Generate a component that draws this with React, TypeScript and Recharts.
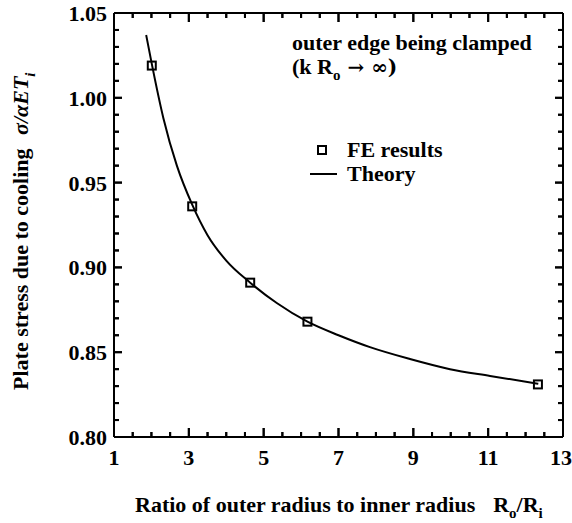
import { ComposedChart, Line, ReferenceLine, Scatter, XAxis, YAxis } from "recharts";

// Ratio of outer radius to inner radius, Ro/Ri
const THEORY_X = [1.86, 2.01, 2.32, 2.68, 3.09, 3.5, 4.0, 4.64, 5.35, 6.17, 7.0, 7.84, 8.91, 9.98, 11.05, 12.34];
const THEORY_Y = [1.037, 1.02, 0.988, 0.96, 0.937, 0.919, 0.904, 0.891, 0.879, 0.868, 0.86, 0.853, 0.846, 0.84, 0.836, 0.8314];

const FE_X = [2.01, 3.09, 4.64, 6.17, 12.33];
const FE_Y = [1.019, 0.936, 0.891, 0.868, 0.831];

const X_TICKS = [1, 1.5, 2, 2.5, 3, 3.5, 4, 4.5, 5, 5.5, 6, 6.5, 7, 7.5, 8, 8.5, 9, 9.5, 10, 10.5, 11, 11.5, 12, 12.5, 13];
const X_LABELS = [1, 3, 5, 7, 9, 11, 13];
const Y_TICKS = [
  0.8, 0.81, 0.82, 0.83, 0.84, 0.85, 0.86, 0.87, 0.88, 0.89, 0.9, 0.91, 0.92,
  0.93, 0.94, 0.95, 0.96, 0.97, 0.98, 0.99, 1.0, 1.01, 1.02, 1.03, 1.04, 1.05,
];
const Y_LABELS = [0.8, 0.85, 0.9, 0.95, 1.0, 1.05];

const X_DOMAIN: [number, number] = [1, 13];
const Y_DOMAIN: [number, number] = [0.8, 1.05];

const isLabel = (list: number[], v: number) => list.some((l) => Math.abs(l - v) < 1e-6);

const theory = THEORY_X.map((x, i) => ({ x, y: THEORY_Y[i] }));
const fe = FE_X.map((x, i) => ({ x, y: FE_Y[i] }));

// tick marks sit on the frame edges as small scatter glyphs
const bottomTicks = X_TICKS.map((x) => ({ x, y: Y_DOMAIN[0] }));
const topTicks = X_TICKS.map((x) => ({ x, y: Y_DOMAIN[1] }));
const leftTicks = Y_TICKS.map((y) => ({ x: X_DOMAIN[0], y }));
const rightTicks = Y_TICKS.map((y) => ({ x: X_DOMAIN[1], y }));

const FONT = "'Liberation Serif', 'Times New Roman', serif";
const W = 572;
const H = 523;
const MARGIN = { top: 3, right: 4, bottom: 76, left: 104 };
const PLOT_W = W - MARGIN.left - MARGIN.right - 15;
const PLOT_H = H - MARGIN.top - MARGIN.bottom - 20;

const xLen = (v: number) => (isLabel(X_LABELS, v) ? 9 : 5);
const yLen = (v: number) => (isLabel(Y_LABELS, v) ? 8 : 5);

const valOf = (p: any, k: "x" | "y") => (p.payload ? p.payload[k] : p[k]);

function BottomTick(props: any) {
  const { cx, cy } = props;
  const len = xLen(valOf(props, "x"));
  return <path d={`M${cx},${cy}V${cy - len}`} stroke="#000" strokeWidth={2} fill="none" />;
}
function TopTick(props: any) {
  const { cx, cy } = props;
  const len = xLen(valOf(props, "x"));
  return <path d={`M${cx},${cy}V${cy + len}`} stroke="#000" strokeWidth={2} fill="none" />;
}
function LeftTick(props: any) {
  const { cx, cy } = props;
  const len = yLen(valOf(props, "y"));
  return <path d={`M${cx},${cy}H${cx + len}`} stroke="#000" strokeWidth={2} fill="none" />;
}
function RightTick(props: any) {
  const { cx, cy } = props;
  const len = yLen(valOf(props, "y"));
  return <path d={`M${cx},${cy}H${cx - len}`} stroke="#000" strokeWidth={2} fill="none" />;
}

// same tick marks as reference segments (data units from the plot size)
const dx = (p: number) => (p * (X_DOMAIN[1] - X_DOMAIN[0])) / PLOT_W;
const dy = (p: number) => (p * (Y_DOMAIN[1] - Y_DOMAIN[0])) / PLOT_H;
const SEGS: { key: string; seg: any }[] = [
  ...X_TICKS.map((v) => ({ key: `b${v}`, seg: [{ x: v, y: Y_DOMAIN[0] }, { x: v, y: Y_DOMAIN[0] + dy(xLen(v)) }] })),
  ...X_TICKS.map((v) => ({ key: `t${v}`, seg: [{ x: v, y: Y_DOMAIN[1] }, { x: v, y: Y_DOMAIN[1] - dy(xLen(v)) }] })),
  ...Y_TICKS.map((v) => ({ key: `l${v}`, seg: [{ x: X_DOMAIN[0], y: v }, { x: X_DOMAIN[0] + dx(yLen(v)), y: v }] })),
  ...Y_TICKS.map((v) => ({ key: `r${v}`, seg: [{ x: X_DOMAIN[1], y: v }, { x: X_DOMAIN[1] - dx(yLen(v)), y: v }] })),
];

function XLabel(props: any) {
  const { x, y, payload } = props;
  if (!isLabel(X_LABELS, payload.value)) return <g />;
  return (
    <text
      x={payload.value === 13 ? x - 2 : x}
      y={y + 28}
      textAnchor="middle"
      fontFamily={FONT}
      fontWeight="bold"
      fontSize={22}
      fill="#000"
    >
      {payload.value}
    </text>
  );
}

function YLabel(props: any) {
  const { x, y, payload } = props;
  if (!isLabel(Y_LABELS, payload.value)) return <g />;
  return (
    <text x={x - 7} y={y + 8} textAnchor="end" fontFamily={FONT} fontWeight="bold" fontSize={22} fill="#000">
      {payload.value.toFixed(2)}
    </text>
  );
}

function Square(props: any) {
  const { cx, cy } = props;
  return <rect x={cx - 4} y={cy - 4} width={8} height={8} fill="none" stroke="#000" strokeWidth={2} />;
}

export default function App() {
  const axisLine = { stroke: "#000", strokeWidth: 2 };
  return (
    <div style={{ position: "absolute", left: 0, top: 0, width: W, height: H, background: "#fff" }}>
      <ComposedChart width={W} height={H} margin={MARGIN}>
        <XAxis
          xAxisId="b"
          type="number"
          dataKey="x"
          domain={X_DOMAIN}
          ticks={X_TICKS}
          interval={0}
          height={10}
          tickSize={0}
          tickMargin={0}
          tickLine={false}
          axisLine={axisLine}
          tick={<XLabel />}
        />
        <XAxis
          xAxisId="t"
          orientation="top"
          type="number"
          domain={X_DOMAIN}
          height={10}
          tick={false}
          tickLine={false}
          axisLine={axisLine}
        />
        <YAxis
          yAxisId="l"
          type="number"
          dataKey="y"
          domain={Y_DOMAIN}
          ticks={Y_TICKS}
          interval={0}
          width={10}
          tickSize={0}
          tickMargin={0}
          tickLine={false}
          axisLine={axisLine}
          tick={<YLabel />}
        />
        <YAxis
          yAxisId="r"
          orientation="right"
          type="number"
          domain={Y_DOMAIN}
          width={5}
          tick={false}
          tickLine={false}
          axisLine={axisLine}
        />

        <Line
          xAxisId="b"
          yAxisId="l"
          data={theory}
          dataKey="y"
          type="monotone"
          stroke="#000"
          strokeWidth={2}
          dot={false}
          isAnimationActive={false}
        />
        <Scatter xAxisId="b" yAxisId="l" data={fe} dataKey="y" shape={<Square />} isAnimationActive={false} />

        <Scatter xAxisId="b" yAxisId="l" data={bottomTicks} dataKey="y" shape={<BottomTick />} isAnimationActive={false} />
        <Scatter xAxisId="b" yAxisId="l" data={topTicks} dataKey="y" shape={<TopTick />} isAnimationActive={false} />
        <Scatter xAxisId="b" yAxisId="l" data={leftTicks} dataKey="y" shape={<LeftTick />} isAnimationActive={false} />
        <Scatter xAxisId="b" yAxisId="l" data={rightTicks} dataKey="y" shape={<RightTick />} isAnimationActive={false} />

        {SEGS.map((s) => (
          <ReferenceLine key={s.key} xAxisId="b" yAxisId="l" segment={s.seg} stroke="#000" strokeWidth={2} />
        ))}
      </ComposedChart>

      <svg
        width={W}
        height={H}
        style={{ position: "absolute", left: 0, top: 0, pointerEvents: "none" }}
        fontFamily={FONT}
        fontWeight="bold"
        fontSize={22}
        fill="#000"
      >
        {/* y axis title */}
        <text transform="translate(28, 390) rotate(-90)">
          Plate stress due to cooling{"  "}
          <tspan fontStyle="italic" dx={8}>σ/αET</tspan>
          <tspan fontStyle="italic" fontSize={15} dy={7}>i</tspan>
        </text>

        {/* x axis title */}
        <text x={135} y={512}>
          Ratio of outer radius to inner radius
          <tspan dx={18}>R</tspan>
          <tspan fontSize={15} dy={6}>o</tspan>
          <tspan dy={-6}>/R</tspan>
          <tspan fontSize={15} dy={6}>i</tspan>
        </text>

        {/* annotation */}
        <text x={292} y={50}>outer edge being clamped</text>
        <text x={292} y={74}>
          (k R<tspan fontSize={15} dy={6}>o</tspan>
          <tspan dy={-6} fontFamily="'DejaVu Serif', serif" fontSize={20}> → ∞)</tspan>
        </text>

        {/* legend */}
        <rect x={318} y={146} width={8} height={8} fill="none" stroke="#000" strokeWidth={2} />
        <text x={347} y={157}>FE results</text>
        <line x1={310} x2={337} y1={174} y2={174} stroke="#000" strokeWidth={2} />
        <text x={347} y={181}>Theory</text>
      </svg>
    </div>
  );
}
